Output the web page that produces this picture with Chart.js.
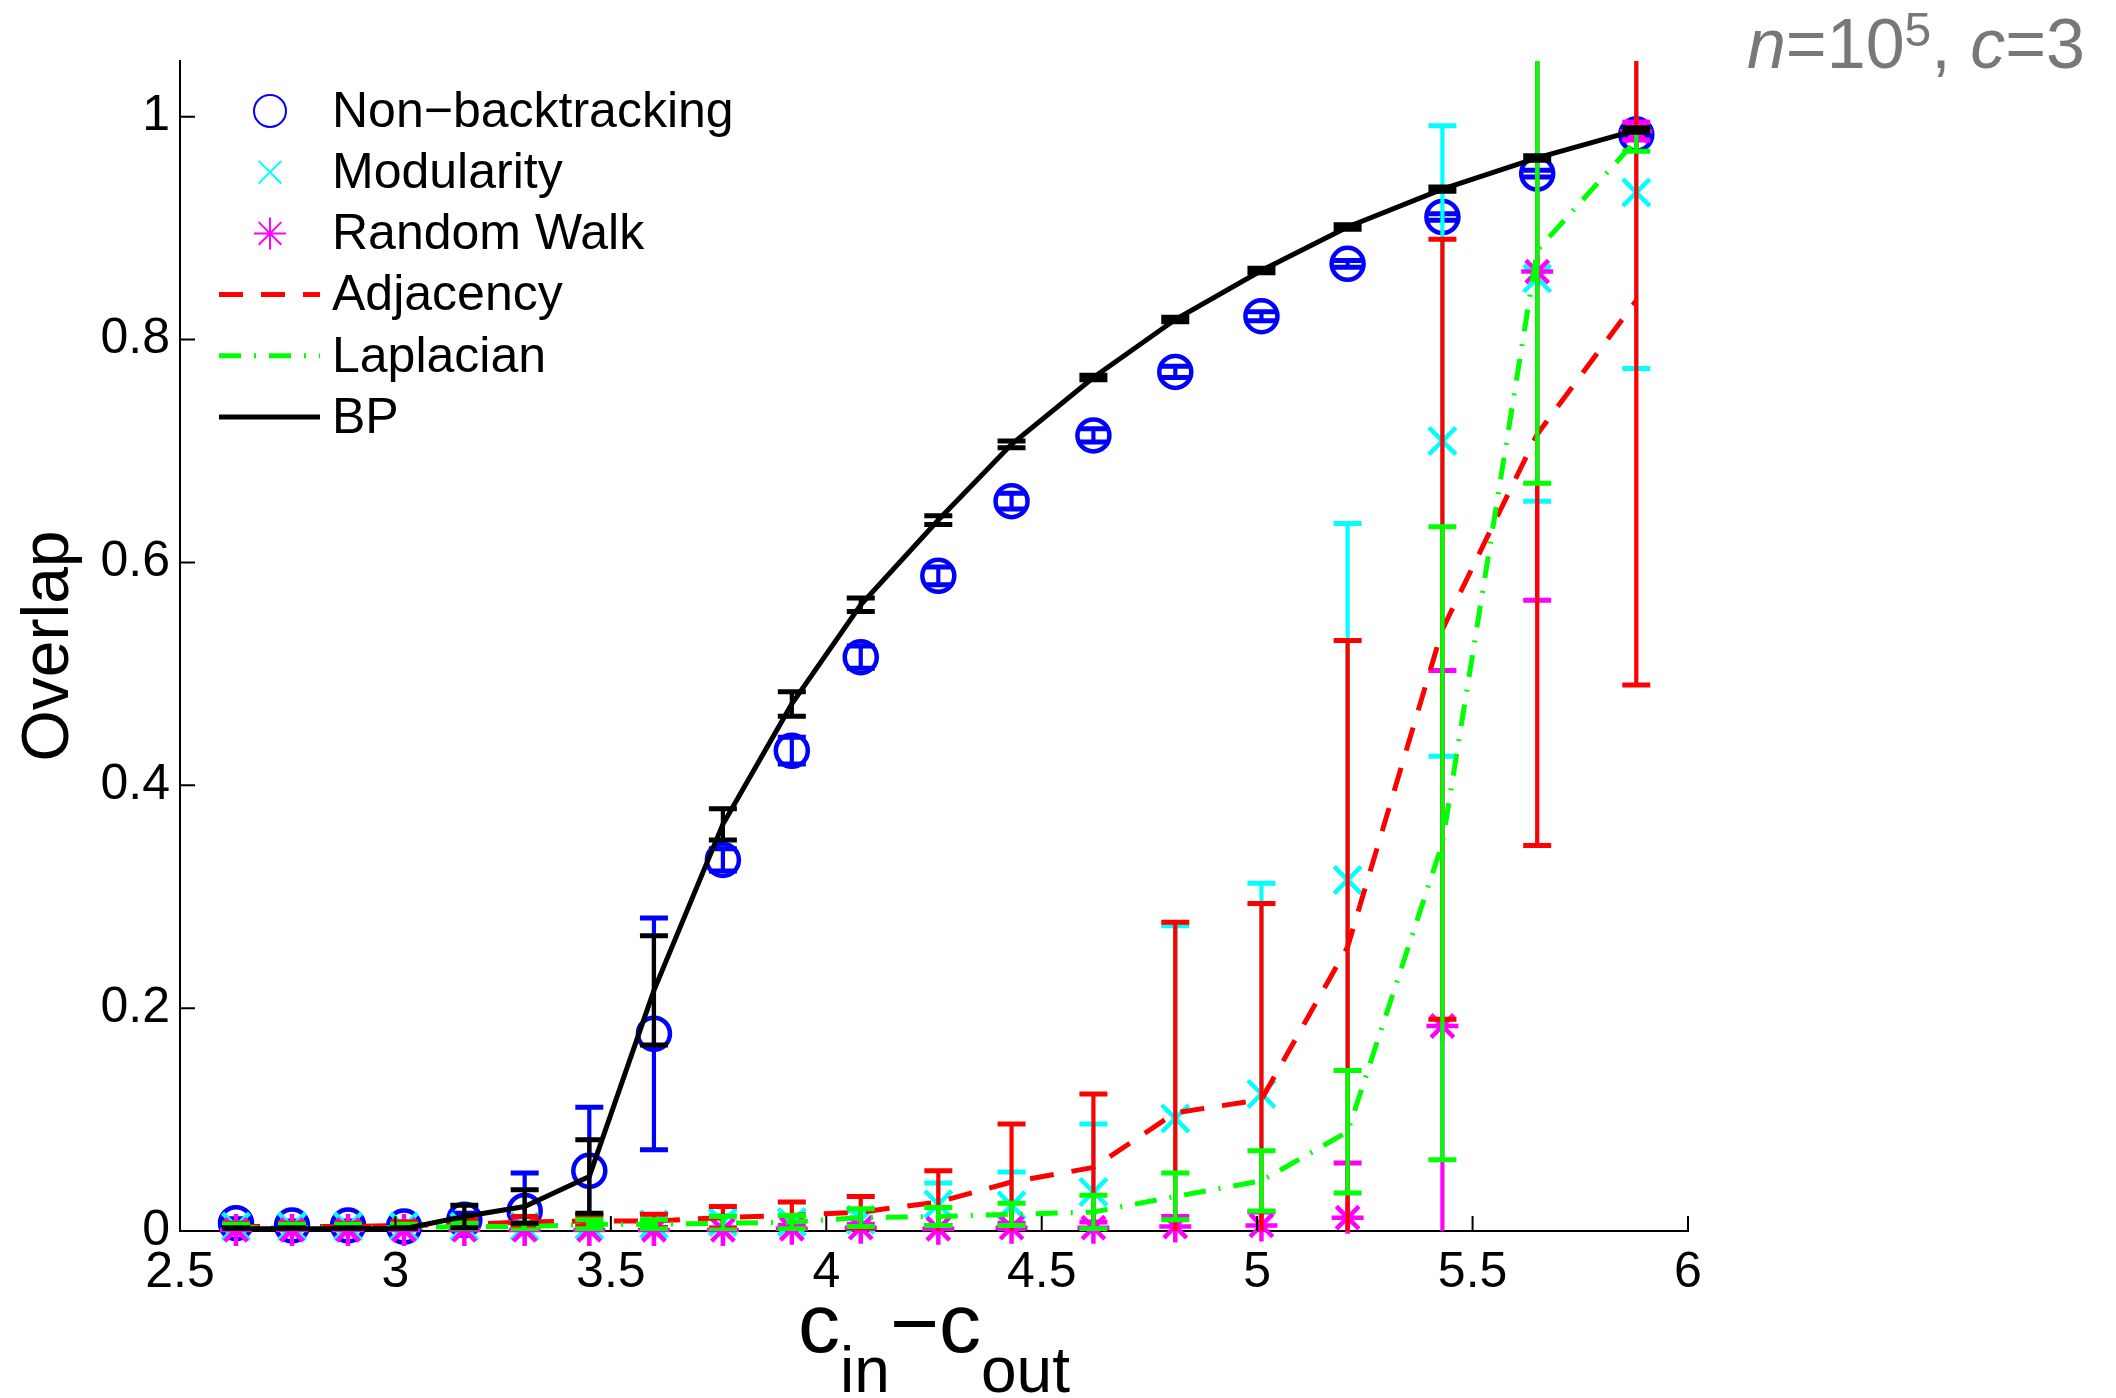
<!DOCTYPE html>
<html>
<head>
<meta charset="utf-8">
<title>Overlap</title>
<script src="https://cdn.jsdelivr.net/npm/chart.js"></script>
<style>
  html, body { margin: 0; padding: 0; background: #fff; }
  #wrap { width: 2116px; height: 1398px; }
</style>
</head>
<body>
<div id="wrap"><canvas id="overlapChart" width="2116" height="1398"></canvas></div>
<script>
// c_in - c_out for each run
const cDiff = [2.63, 2.76, 2.89, 3.02, 3.16, 3.30, 3.45, 3.60, 3.76, 3.92, 4.08, 4.26, 4.43, 4.62, 4.81, 5.01, 5.21, 5.43, 5.65, 5.88];

// mean overlap and error for each method
const nbMean  = [0.007, 0.005, 0.005, 0.004, 0.010, 0.018, 0.054, 0.177, 0.333, 0.431, 0.515, 0.588, 0.655, 0.714, 0.771, 0.821, 0.868, 0.910, 0.949, 0.984];
const nbErr   = [0.004, 0.004, 0.004, 0.004, 0.006, 0.034, 0.057, 0.104, 0.010, 0.012, 0.010, 0.008, 0.007, 0.006, 0.005, 0.004, 0.003, 0.003, 0.003, 0.002];

const modMean = [0.004, 0.004, 0.004, 0.004, 0.004, 0.004, 0.005, 0.006, 0.008, 0.008, 0.010, 0.024, 0.023, 0.035, 0.101, 0.123, 0.315, 0.709, 0.855, 0.932];
const modErr  = [0.003, 0.003, 0.003, 0.003, 0.003, 0.003, 0.004, 0.004, 0.006, 0.006, 0.008, 0.019, 0.030, 0.061, 0.173, 0.189, 0.320, 0.283, 0.200, 0.158];

const rwMean  = [0.001, 0.001, 0.001, 0.001, 0.001, 0.001, 0.001, 0.001, 0.001, 0.002, 0.003, 0.002, 0.003, 0.003, 0.004, 0.005, 0.012, 0.184, 0.861, 0.987];
const rwErr   = [0.002, 0.002, 0.002, 0.002, 0.002, 0.002, 0.002, 0.002, 0.002, 0.003, 0.003, 0.003, 0.004, 0.005, 0.009, 0.012, 0.049, 0.319, 0.295, 0.008];

const adjMean = [0.004, 0.004, 0.004, 0.005, 0.006, 0.008, 0.009, 0.009, 0.012, 0.014, 0.017, 0.026, 0.044, 0.057, 0.106, 0.118, 0.255, 0.540, 0.715, 0.835];
const adjErr  = [0.003, 0.003, 0.003, 0.003, 0.004, 0.005, 0.005, 0.006, 0.010, 0.012, 0.014, 0.028, 0.052, 0.066, 0.171, 0.176, 0.275, 0.350, 0.369, 0.345];

const lapMean = [0.003, 0.003, 0.003, 0.003, 0.004, 0.004, 0.006, 0.006, 0.007, 0.008, 0.012, 0.013, 0.015, 0.017, 0.031, 0.045, 0.089, 0.348, 0.880, 0.979];
const lapErr  = [0.003, 0.003, 0.003, 0.003, 0.003, 0.003, 0.004, 0.004, 0.006, 0.006, 0.008, 0.008, 0.010, 0.015, 0.021, 0.027, 0.055, 0.284, 0.209, 0.010];

const bpMean  = [0.002, 0.002, 0.002, 0.002, 0.013, 0.022, 0.049, 0.216, 0.365, 0.473, 0.562, 0.638, 0.706, 0.766, 0.818, 0.862, 0.901, 0.935, 0.963, 0.988];
const bpErr   = [0.001, 0.001, 0.001, 0.001, 0.010, 0.015, 0.033, 0.049, 0.014, 0.011, 0.006, 0.004, 0.003, 0.002, 0.002, 0.002, 0.002, 0.002, 0.002, 0.002];

const seriesNames = ['Non\u2212backtracking', 'Modularity', 'Random Walk', 'Adjacency', 'Laplacian', 'BP'];

// axis ticks
const xTicks = [2.5, 3, 3.5, 4, 4.5, 5, 5.5, 6];
const xTickLabels = ['2.5', '3', '3.5', '4', '4.5', '5', '5.5', '6'];
const yTicks = [0, 0.2, 0.4, 0.6, 0.8, 1];
const yTickLabels = ['0', '0.2', '0.4', '0.6', '0.8', '1'];

const FONT = "'Liberation Sans', Arial, Helvetica, sans-serif";
Chart.defaults.font.family = FONT;

function pts(ys) {
  return cDiff.map((c, i) => ({ x: c, y: ys[i] }));
}

function markerSet(name, ys, errs, color, style, radius, order) {
  return {
    label: name, data: pts(ys), errors: errs, barColor: color,
    showLine: false, pointStyle: style, pointRadius: radius, pointHoverRadius: radius,
    pointBorderWidth: 4.5, pointBorderColor: color, pointBackgroundColor: 'rgba(0,0,0,0)',
    borderColor: color, clip: false, order: order
  };
}

function lineSet(name, ys, errs, color, dash, order) {
  return {
    label: name, data: pts(ys), errors: errs, barColor: color,
    showLine: true, borderColor: color, borderWidth: 5, borderDash: dash,
    borderCapStyle: 'butt', pointRadius: 0, pointHoverRadius: 0, tension: 0, fill: false, order: order
  };
}

const datasets = [
  markerSet(seriesNames[0], nbMean, nbErr, '#0000ff', 'circle', 16, 6),
  markerSet(seriesNames[1], modMean, modErr, '#00ffff', 'crossRot', 19, 5),
  markerSet(seriesNames[2], rwMean, rwErr, '#ff00ff', 'star', 16, 4),
  lineSet(seriesNames[3], adjMean, adjErr, '#ff0000', [24, 18], 3),
  lineSet(seriesNames[4], lapMean, lapErr, '#00ff00', [22, 13, 2, 13], 2),
  lineSet(seriesNames[5], bpMean, bpErr, '#000000', [], 1)
];

// vertical error bars with caps, drawn right after their own series
const errorBars = {
  id: 'errorBars',
  afterDatasetDraw(chart, args) {
    const ds = chart.data.datasets[args.index];
    if (!ds.errors) return;
    const { ctx, chartArea: a, scales: { x, y } } = chart;
    ctx.save();
    ctx.beginPath();
    ctx.rect(a.left, a.top, a.right - a.left, a.bottom - a.top);
    ctx.clip();
    ctx.strokeStyle = ds.barColor;
    ctx.setLineDash([]);
    ds.data.forEach((p, i) => {
      const e = ds.errors[i];
      const px = x.getPixelForValue(p.x);
      const lo = y.getPixelForValue(p.y - e);
      const hi = y.getPixelForValue(p.y + e);
      ctx.lineWidth = 4.2;
      ctx.beginPath();
      ctx.moveTo(px, lo);
      ctx.lineTo(px, hi);
      ctx.stroke();
      ctx.lineWidth = 5;
      ctx.beginPath();
      ctx.moveTo(px - 14, lo); ctx.lineTo(px + 14, lo);
      ctx.moveTo(px - 14, hi); ctx.lineTo(px + 14, hi);
      ctx.stroke();
    });
    ctx.restore();
  }
};

function drawMarker(ctx, style, cx, cy, r) {
  ctx.beginPath();
  if (style === 'circle') {
    ctx.arc(cx, cy, r, 0, Math.PI * 2);
  } else if (style === 'crossRot') {
    const d = r * Math.SQRT1_2;
    ctx.moveTo(cx - d, cy - d); ctx.lineTo(cx + d, cy + d);
    ctx.moveTo(cx - d, cy + d); ctx.lineTo(cx + d, cy - d);
  } else if (style === 'star') {
    const d = r * Math.SQRT1_2;
    ctx.moveTo(cx, cy - r); ctx.lineTo(cx, cy + r);
    ctx.moveTo(cx - r, cy); ctx.lineTo(cx + r, cy);
    ctx.moveTo(cx - d, cy - d); ctx.lineTo(cx + d, cy + d);
    ctx.moveTo(cx - d, cy + d); ctx.lineTo(cx + d, cy - d);
  }
  ctx.stroke();
}

// inward ticks, x title with subscripts, corner note and legend
const decorations = {
  id: 'decorations',
  afterDraw(chart) {
    const { ctx, chartArea: a, scales: { x, y } } = chart;
    ctx.save();

    // ticks point into the plot
    ctx.strokeStyle = '#000';
    ctx.lineWidth = 2;
    ctx.beginPath();
    xTicks.forEach(v => {
      const px = x.getPixelForValue(v);
      ctx.moveTo(px, a.bottom); ctx.lineTo(px, a.bottom - 15);
    });
    yTicks.forEach(v => {
      const py = y.getPixelForValue(v);
      ctx.moveTo(a.left, py); ctx.lineTo(a.left + 15, py);
    });
    ctx.stroke();

    // x title: c_in - c_out
    const big = `84px ${FONT}`, small = `64px ${FONT}`;
    const parts = [['c', big, 0], ['in', small, 40], ['\u2212c', big, 0], ['out', small, 40]];
    let total = 0;
    parts.forEach(p => { ctx.font = p[1]; total += ctx.measureText(p[0]).width; });
    let tx = (a.left + a.right) / 2 - total / 2;
    const tBase = a.bottom + 121;
    ctx.fillStyle = '#000';
    ctx.textAlign = 'left';
    ctx.textBaseline = 'alphabetic';
    parts.forEach(p => {
      ctx.font = p[1];
      ctx.fillText(p[0], tx, tBase + p[2]);
      tx += ctx.measureText(p[0]).width;
    });

    // n=10^5, c=3 in the top right corner
    const note = [
      ['n', `italic 70px ${FONT}`, 0], ['=10', `70px ${FONT}`, 0], ['5', `48px ${FONT}`, -22],
      [', ', `70px ${FONT}`, 0], ['c', `italic 70px ${FONT}`, 0], ['=3', `70px ${FONT}`, 0]
    ];
    let nw = 0;
    note.forEach(p => { ctx.font = p[1]; nw += ctx.measureText(p[0]).width; });
    let nx = chart.width - 31 - nw;
    ctx.fillStyle = '#787878';
    note.forEach(p => {
      ctx.font = p[1];
      ctx.fillText(p[0], nx, 68 + p[2]);
      nx += ctx.measureText(p[0]).width;
    });

    // legend, no box
    ctx.font = `50px ${FONT}`;
    ctx.textBaseline = 'middle';
    chart.data.datasets.forEach((ds, i) => {
      const ry = a.top + 50 + i * 61.2;
      ctx.strokeStyle = ds.borderColor;
      if (ds.showLine) {
        ctx.lineWidth = 5;
        ctx.setLineDash(ds.borderDash);
        ctx.beginPath();
        ctx.moveTo(a.left + 39, ry); ctx.lineTo(a.left + 140, ry);
        ctx.stroke();
        ctx.setLineDash([]);
      } else {
        ctx.lineWidth = 2;
        drawMarker(ctx, ds.pointStyle, a.left + 90, ry, 16);
      }
      ctx.fillStyle = '#000';
      ctx.fillText(ds.label, a.left + 152, ry + 2);
    });

    ctx.restore();
  }
};

new Chart(document.getElementById('overlapChart'), {
  type: 'scatter',
  data: { datasets: datasets },
  options: {
    responsive: false,
    animation: false,
    events: [],
    layout: { padding: { left: 0, top: 61, right: 428, bottom: 0 } },
    plugins: { legend: { display: false }, tooltip: { enabled: false } },
    scales: {
      x: {
        type: 'linear', min: 2.5, max: 6,
        afterBuildTicks: s => { s.ticks = xTicks.map(v => ({ value: v })); },
        afterFit: s => { s.height = 167; },
        grid: { display: false, drawTicks: false },
        border: { display: true, color: '#000', width: 2 },
        ticks: {
          autoSkip: false, maxRotation: 0, padding: 12, color: '#000',
          font: { size: 50 },
          callback: (v, i) => xTickLabels[i]
        }
      },
      y: {
        type: 'linear', min: 0, max: 1.05,
        afterBuildTicks: s => { s.ticks = yTicks.map(v => ({ value: v })); },
        afterFit: s => { s.width = 180; },
        grid: { display: false, drawTicks: false },
        border: { display: true, color: '#000', width: 2 },
        ticks: {
          autoSkip: false, padding: 10, color: '#000',
          font: { size: 50 },
          callback: (v, i) => yTickLabels[i]
        },
        title: { display: true, text: 'Overlap', color: '#000', font: { size: 66 }, padding: { top: 10, bottom: 0 } }
      }
    }
  },
  plugins: [errorBars, decorations]
});
</script>
</body>
</html>
